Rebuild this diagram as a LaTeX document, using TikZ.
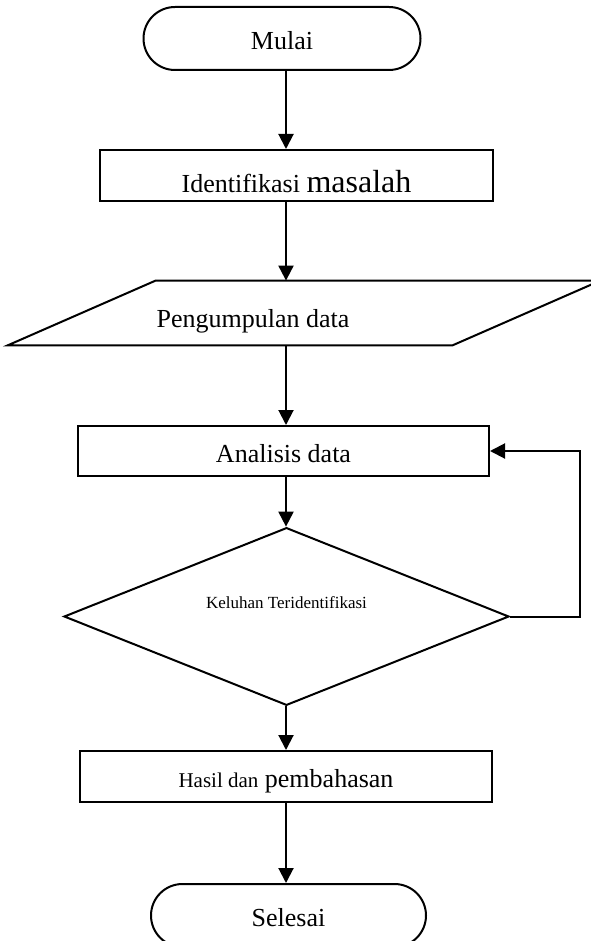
\documentclass[tikz,border=0pt]{standalone}
\usepackage{fontspec}
\setmainfont{Liberation Serif}
\usetikzlibrary{arrows.meta,shapes.geometric,shapes.misc}

\begin{document}
\begin{tikzpicture}[x=0.5pt,y=-0.5pt,
  font=\fontsize{13pt}{15pt}\selectfont,
  term/.style={draw,line width=1pt,rounded rectangle,minimum width=#1,
               minimum height=31.5pt,inner sep=0pt,text height=11pt,text depth=0pt},
  proc/.style={draw,line width=1pt,minimum width=#1,minimum height=25.5pt,
               inner sep=0pt,text height=11pt,text depth=0pt},
  io/.style={minimum width=222pt,minimum height=32pt,inner sep=0pt,
             text height=14pt,text depth=0pt},
  dec/.style={draw,line width=1pt,diamond,minimum width=222.5pt,minimum height=60.5pt,
              inner sep=0pt,font=\fontsize{8.5pt}{10pt}\selectfont,
              text height=0pt,text depth=8.5pt},
  box/.style={line width=1pt,line join=miter},
  w/.style={-{Triangle[length=7.5pt,width=7.5pt]},line width=1pt}]

\useasboundingbox (0,0) rectangle (590,941);
\coordinate (spine) at (286,0);
\coordinate (back) at (580,0);

% ---------------- start and problem -----------------------------------------
\node[term=138.5pt] (mulai) at (282,38.5) {Mulai};
\node[proc=196.5pt,text height=16.5pt] (ident) at (296.5,175.5)
  {Identifikasi {\fontsize{16pt}{18pt}\selectfont masalah}};
\draw[w] (mulai.south -| spine) -- (ident.north -| spine);

% ---------------- data collection (parallelogram) ---------------------------
\node[io] (kumpul) at (304,313) {\hspace*{-51pt}Pengumpulan data};
\draw[box] ([xshift=-37pt]kumpul.south west) -- ([xshift=37pt]kumpul.north west)
  -- ([xshift=37pt]kumpul.north east) -- ([xshift=-37pt]kumpul.south east) -- cycle;
\draw[w] (ident.south -| spine) -- (kumpul.north -| spine);

% ---------------- analysis and decision -------------------------------------
\node[proc=205.5pt,minimum height=25pt] (anal) at (283.5,451) {Analisis data};
\draw[w] (kumpul.south -| spine) -- (anal.north -| spine);

\node[dec] (kel) at (286.5,616.5) {Keluhan Teridentifikasi};
\draw[w] (anal.south -| spine) -- (kel.north -| spine);
\draw[w] (kel.east) -| (back |- anal.east) -- (anal.east);

% ---------------- results and end -------------------------------------------
\node[proc=206pt] (hasil) at (286,776.5)
  {{\fontsize{10.5pt}{12pt}\selectfont Hasil dan} pembahasan};
\draw[w] (kel.south -| spine) -- (hasil.north -| spine);

\node[term=137.5pt] (selesai) at (288.5,915.5) {Selesai};
\draw[w] (hasil.south -| spine) -- (selesai.north -| spine);

\end{tikzpicture}
\end{document}
